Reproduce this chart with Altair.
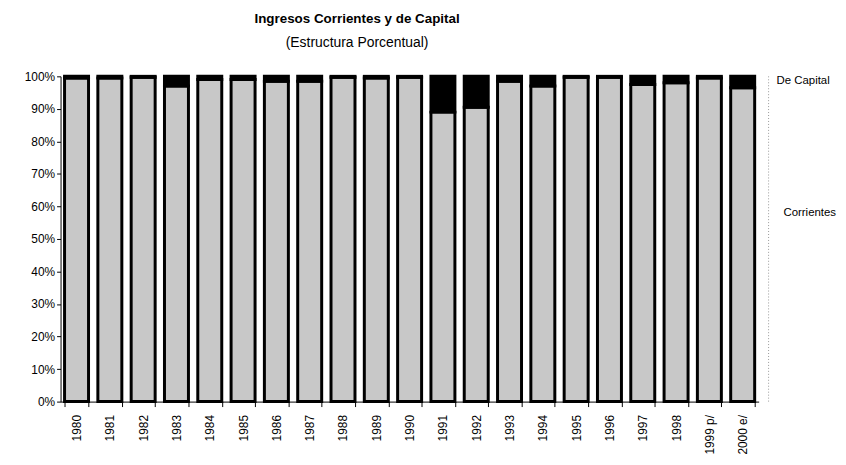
import altair as alt
import pandas as pd

years = ["1980", "1981", "1982", "1983", "1984", "1985", "1986", "1987", "1988", "1989",
         "1990", "1991", "1992", "1993", "1994", "1995", "1996", "1997", "1998", "1999 p/", "2000 e/"]
capital = [0.5, 0.5, 0.3, 3.0, 1.0, 1.0, 1.5, 1.5, 0.3, 0.5,
           0.3, 11.0, 9.5, 1.5, 3.0, 0.3, 0.3, 2.5, 2.0, 0.5, 3.5]
corrientes = [round(100 - c, 2) for c in capital]

series_names = ["Corrientes", "De Capital"]
label_y = [58, 98.5]
label_dx = [25, 18]

rows = []
for y, cor, cap in zip(years, corrientes, capital):
    rows.append({"year": y, "serie": "Corrientes", "value": cor, "ord": 0})
    rows.append({"year": y, "serie": "De Capital", "value": cap, "ord": 1})
df = pd.DataFrame(rows)
labels_df = pd.DataFrame({"serie": series_names, "value": label_y, "dx": label_dx})

W, H = 704, 328
FONT = "Liberation Sans"

yaxis = alt.Axis(values=list(range(0, 101, 10)), labelExpr="datum.value + '%'",
                 labelOverlap=False, grid=False, labelFont=FONT, labelFontSize=12,
                 labelColor="black", tickColor="black", domainColor="black", tickSize=4)
yscale = alt.Scale(domain=[0, 100], nice=False)

bars = alt.Chart(df).mark_bar(stroke="black", strokeWidth=3).encode(
    x=alt.X("year:N", sort=years, title=None,
            scale=alt.Scale(paddingInner=0.28, paddingOuter=0.12),
            axis=alt.Axis(labelAngle=-90, labelFont=FONT, labelFontSize=12, labelColor="black",
                          tickBand="extent", tickColor="black", domainColor="black",
                          tickSize=5, labelPadding=8)),
    y=alt.Y("value:Q", stack="zero", title=None, scale=yscale, axis=yaxis),
    color=alt.Color("serie:N", scale=alt.Scale(domain=series_names, range=["#c8c8c8", "#000000"]),
                    legend=None),
    order=alt.Order("ord:Q"),
)

right_rule = alt.Chart(pd.DataFrame({"a": [0]})).mark_rule(
    color="#999999", strokeDash=[1, 2], strokeWidth=1
).encode(x=alt.value(W + 10), y=alt.value(0), y2=alt.value(H))

labels = alt.Chart(labels_df).mark_text(align="left", baseline="middle", font=FONT,
                                         fontSize=11.5, color="black").encode(
    x=alt.value(W),
    y=alt.Y("value:Q", title=None, scale=yscale, axis=yaxis),
    text="serie:N",
    xOffset=alt.XOffset("dx:Q", scale=None),
)

chart = alt.layer(bars, right_rule, labels).properties(
    width=W, height=H,
    title=alt.TitleParams(text="Ingresos Corrientes y de Capital",
                          subtitle="(Estructura Porcentual)",
                          font=FONT, fontSize=13.5, fontWeight="bold", color="black",
                          subtitleFont=FONT, subtitleFontSize=14, subtitleColor="black",
                          subtitlePadding=10,
                          anchor="middle", dx=-53, offset=21),
    autosize=alt.AutoSizeParams(type="none"),
    padding={"left": 53, "top": 67, "right": 80, "bottom": 60},
).configure_view(stroke=None)

chart.save("out.html", embed_options={"renderer": "svg", "actions": False})
